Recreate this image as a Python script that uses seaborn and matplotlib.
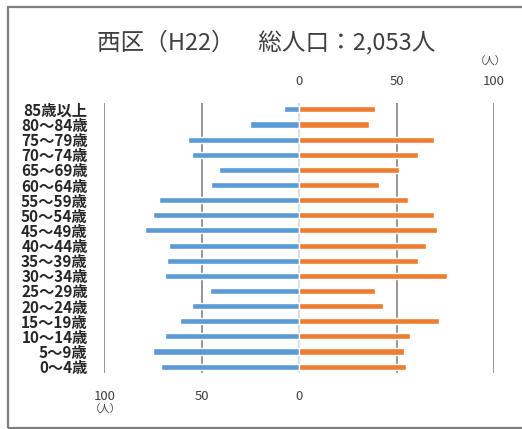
import matplotlib
matplotlib.use("Agg")
import matplotlib.pyplot as plt
import seaborn as sns
import pandas as pd
from matplotlib.patches import Rectangle

ages = ["85歳以上", "80～84歳", "75～79歳", "70～74歳", "65～69歳", "60～64歳",
        "55～59歳", "50～54歳", "45～49歳", "40～44歳", "35～39歳", "30～34歳",
        "25～29歳", "20～24歳", "15～19歳", "10～14歳", "5～9歳", "0～4歳"]
male = [8, 25, 57, 55, 41, 45, 72, 75, 79, 67, 68, 69, 46, 55, 61, 69, 75, 71]
female = [39, 36, 69, 61, 51, 41, 56, 69, 71, 65, 61, 76, 39, 43, 72, 57, 54, 55]
title = "西区（H22）　総人口：2,053人"
top_ticks = [0, 50, 100]
bottom_ticks = [-100, -50, 0]
grid_lines = [-100, -50, 50, 100]
unit = "（人）"

sns.set_theme(style="white")
plt.rcParams['font.family'] = ['Noto Sans CJK JP', 'DejaVu Sans']

df = pd.DataFrame({
    "age": ages * 2,
    "sex": ["男"] * len(ages) + ["女"] * len(ages),
    "value": [-v for v in male] + female,
})

fig = plt.figure(figsize=(5.22, 4.29), dpi=100)
ax = fig.add_axes([104.3 / 522, 56 / 429, 389.7 / 522, 270 / 429])

for x in grid_lines:
    ax.axvline(x, color="#8c8c8c", lw=1.3, zorder=0)
ax.axvline(0, color="#d9d9d9", lw=1.2, zorder=0)

sns.barplot(data=df, x="value", y="age", hue="sex", order=ages,
            palette={"男": "#5B9BD5", "女": "#ED7D31"}, dodge=False,
            saturation=1, width=0.4, orient="h", ax=ax, legend=False, zorder=2)

ax.set_xlim(-100, 100)
ax.set_ylim(len(ages) - 0.58, -0.42)
ax.set_xlabel("")
ax.set_ylabel("")
for s in ax.spines.values():
    s.set_visible(False)

ax.set_xticks(bottom_ticks)
ax.set_xticklabels([str(abs(t)) for t in bottom_ticks])
ax.tick_params(axis="x", length=0, pad=12, labelsize=9.5, labelcolor="#404040")
ax.tick_params(axis="y", length=0, pad=12, labelsize=11, labelcolor="#262626")
for lab in ax.get_yticklabels():
    lab.set_fontweight("bold")

sec = ax.secondary_xaxis("top")
sec.set_xticks(top_ticks)
sec.set_xticklabels([str(t) for t in top_ticks])
sec.tick_params(length=0, pad=11, labelsize=9.5, labelcolor="#404040")
for s in sec.spines.values():
    s.set_visible(False)

fig.text(266 / 522, 1 - 42 / 429, title, ha="center", va="center",
         fontsize=17, color="#404040")
fig.text(490 / 522, 1 - 62 / 429, unit, ha="center", va="center",
         fontsize=7.5, color="#404040")
fig.text(105 / 522, 1 - 410 / 429, unit, ha="center", va="center",
         fontsize=7.5, color="#404040")

# outer frame (right edge falls outside the image)
frame = Rectangle((7.5 / 522, 1.5 / 429), 1.05, (429 - 1.5 - 6.5) / 429,
                  transform=fig.transFigure, fill=False,
                  edgecolor="#7f7f7f", lw=1.6, clip_on=False, zorder=10)
fig.add_artist(frame)

fig.savefig("out.png", dpi=100)
